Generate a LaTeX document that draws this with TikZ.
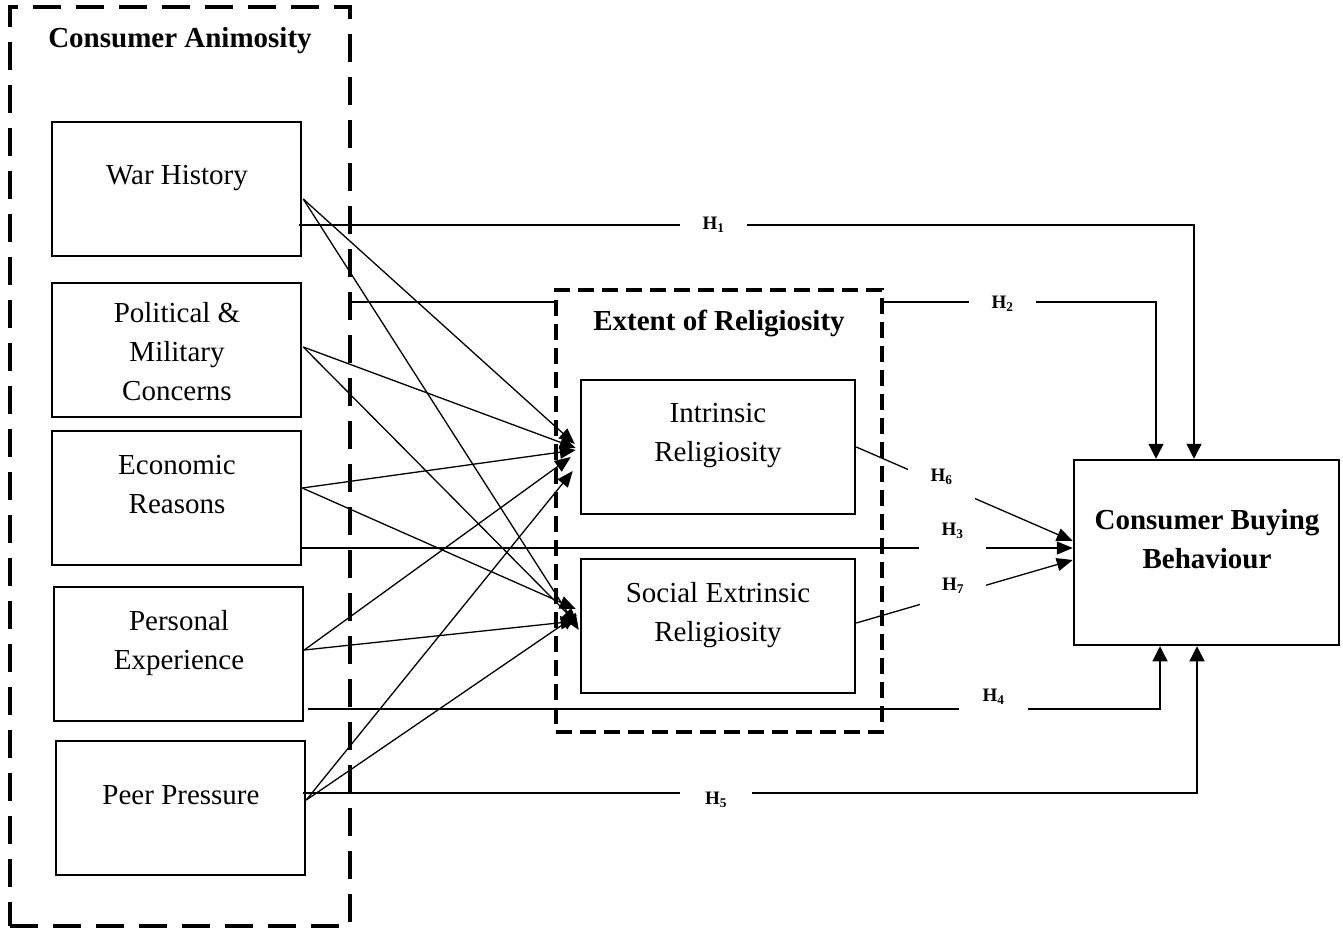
\documentclass[tikz,border=0pt]{standalone}
\usepackage{fontspec}
\setmainfont{Liberation Serif}
\usetikzlibrary{arrows.meta,calc}

\begin{document}
\begin{tikzpicture}[x=1pt,y=-1pt,
  box/.style={draw, line width=2.5pt, inner sep=0pt, minimum width=249pt, minimum height=134pt},
  group/.style={draw, line width=4pt, inner sep=0pt},
  txt/.style={font=\fontsize{29}{39}\selectfont, align=center, inner sep=0pt},
  btxt/.style={font=\fontsize{29}{39}\selectfont\bfseries, align=center, inner sep=0pt},
  conn/.style={line width=1.3pt},
  arr/.style={conn, -{Triangle[length=16pt,width=13pt]}},
  varr/.style={conn, -{Triangle[length=15pt,width=15pt]}},
  hlab/.style={fill=white, inner sep=0pt, font=\fontsize{19}{20}\selectfont\bfseries},
]
\useasboundingbox (0,0) rectangle (1343,928);

% grouping frames
\node[group, dash pattern=on 28pt off 15pt, minimum width=340pt, minimum height=919pt] (anim) at (180,466.5) {};
\node[group, dash pattern=on 16pt off 8pt, minimum width=326pt, minimum height=442pt] (relig) at (719,511) {};

% construct boxes
\node[box] (war)  at (176.5,189) {};
\node[box] (pol)  at (176.5,350) {};
\node[box] (econ) at (176.5,498) {};
\node[box] (pers) at (178.5,654) {};
\node[box] (peer) at (180.5,808) {};
\node[box, minimum width=274pt] (intr) at (718,447) {};
\node[box, minimum width=274pt] (soc)  at (718,626) {};
\node[box, minimum width=265pt, minimum height=185pt] (cbb) at (1206.5,552.5) {};

% captions
\node[btxt] (animT)  at (180,40) {Consumer Animosity\strut};
\node[btxt] (religT) at (719,323) {Extent of Religiosity\strut};
\node[txt] (warT)  at (177,177) {War History\strut};
\node[txt] (polT)  at (177,353.5) {Political \&\strut\\Military\strut\\Concerns\strut};
\node[txt] (econT) at (177,486.5) {Economic\strut\\Reasons\strut};
\node[txt] (persT) at (179,642.5) {Personal\strut\\Experience\strut};
\node[txt] (peerT) at (181,797) {Peer Pressure\strut};
\node[txt] (intrT) at (718,434.5) {Intrinsic\strut\\Religiosity\strut};
\node[txt] (socT)  at (718,614.5) {Social Extrinsic\strut\\Religiosity\strut};
\node[btxt] (cbbT) at (1207,541.5) {Consumer Buying\strut\\Behaviour\strut};

% antecedents -> intrinsic religiosity
\draw[arr] ($(war.east)+(1,10)$)  -- ($(intr.west)+(-5,-3)$);
\draw[arr] ($(pol.east)+(1,-3)$)  -- ($(intr.west)+(-4,1)$);
\draw[arr] ($(econ.east)+(0,-10)$) -- ($(intr.west)+(-4,3)$);
\draw[arr] ($(pers.east)+(0,-4)$) -- ($(intr.west)+(-9,10)$);
\draw[arr] ($(peer.east)+(0,-8)$) -- ($(intr.west)+(-7,24)$);

% antecedents -> social extrinsic religiosity
\draw[arr] ($(war.east)+(1,10)$)  -- ($(soc.west)+(-1,4)$);
\draw[arr] ($(pol.east)+(1,-3)$)  -- ($(soc.west)+(-2,-2)$);
\draw[arr] ($(econ.east)+(0,-10)$) -- ($(soc.west)+(-4,-17)$);
\draw[arr] ($(pers.east)+(0,-4)$) -- ($(soc.west)+(-3,-5)$);
\draw[arr] ($(peer.east)+(0,-8)$) -- ($(soc.west)+(-3,-11)$);

% direct paths to consumer buying behaviour
\coordinate (h1y) at (0,225);
\coordinate (h2y) at (0,302);
\coordinate (h3y) at (0,548);
\coordinate (h4y) at (0,709);
\coordinate (h5y) at (0,793);
\draw[varr] ($(war.east |- h1y)+(-3,0)$) -| ($(cbb.north)+(-12.5,0)$);
\draw[conn] (anim.east |- h2y) -- (relig.west |- h2y);
\draw[varr] (relig.east |- h2y) -| ($(cbb.north)+(-50.5,0)$);
\draw[arr] (econ.east |- h3y) -- (cbb.west |- h3y);
\draw[varr] ($(pers.east |- h4y)+(4,0)$) -| ($(cbb.south)+(-46.5,0)$);
\draw[varr] ($(peer.east |- h5y)+(-3,0)$) -| ($(cbb.south)+(-9.5,0)$);
\draw[arr] (intr.east) -- ($(cbb.west)+(0,-11.5)$);
\draw[arr] ($(soc.east)+(0,-3)$) -- ($(cbb.west)+(0,7.5)$);

% hypothesis labels
\node[hlab, minimum width=67pt, minimum height=24pt] (H1) at (713.5,225) {H\textsubscript{1}};
\node[hlab, minimum width=67pt, minimum height=24pt] (H2) at (1002.5,304) {H\textsubscript{2}};
\node[hlab, minimum width=67pt, minimum height=40pt] (H3) at (952.5,531) {H\textsubscript{3}};
\node[hlab, minimum width=69pt, minimum height=30pt] (H4) at (993.5,697) {H\textsubscript{4}};
\node[hlab, minimum width=72pt, minimum height=24pt] (H5) at (716,800) {H\textsubscript{5}};
\node[hlab, minimum width=67pt, minimum height=46pt] (H6) at (941.5,477) {H\textsubscript{6}};
\node[hlab, minimum width=66pt, minimum height=40pt] (H7) at (953,586) {H\textsubscript{7}};
\end{tikzpicture}
\end{document}
